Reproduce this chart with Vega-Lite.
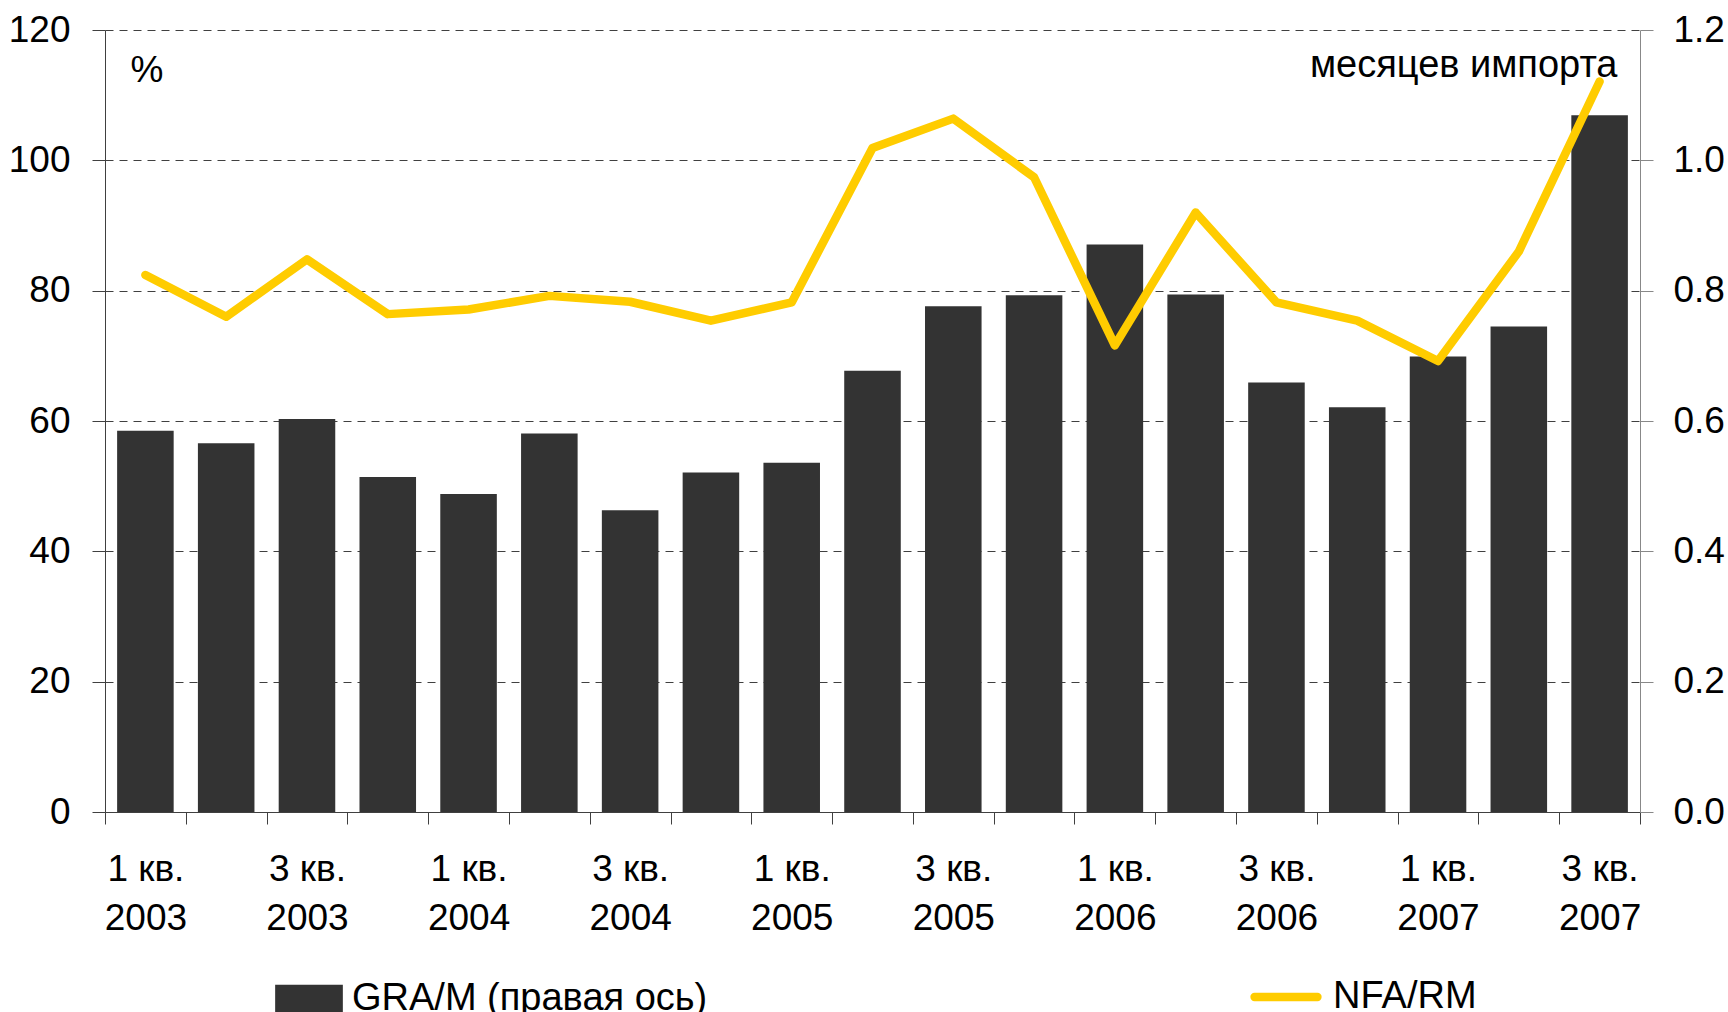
{
  "$schema": "https://vega.github.io/schema/vega-lite/v6.json",
  "width": 1535,
  "height": 782,
  "autosize": {"type": "none"},
  "padding": {"left": 105, "top": 30, "right": 88, "bottom": 200},
  "background": "white",
  "config": {
    "font": "Liberation Sans",
    "view": {"stroke": null}
  },
  "data": {
    "values": [
      {"q": "1 кв. 2003", "gra": 0.585, "nfa": 82.4},
      {"q": "2 кв. 2003", "gra": 0.566, "nfa": 76.0},
      {"q": "3 кв. 2003", "gra": 0.603, "nfa": 84.8},
      {"q": "4 кв. 2003", "gra": 0.514, "nfa": 76.4},
      {"q": "1 кв. 2004", "gra": 0.488, "nfa": 77.1},
      {"q": "2 кв. 2004", "gra": 0.581, "nfa": 79.2},
      {"q": "3 кв. 2004", "gra": 0.463, "nfa": 78.3},
      {"q": "4 кв. 2004", "gra": 0.521, "nfa": 75.4},
      {"q": "1 кв. 2005", "gra": 0.536, "nfa": 78.2},
      {"q": "2 кв. 2005", "gra": 0.677, "nfa": 101.9},
      {"q": "3 кв. 2005", "gra": 0.776, "nfa": 106.4},
      {"q": "4 кв. 2005", "gra": 0.793, "nfa": 97.4},
      {"q": "1 кв. 2006", "gra": 0.871, "nfa": 71.6},
      {"q": "2 кв. 2006", "gra": 0.794, "nfa": 92.0},
      {"q": "3 кв. 2006", "gra": 0.659, "nfa": 78.2},
      {"q": "4 кв. 2006", "gra": 0.621, "nfa": 75.4},
      {"q": "1 кв. 2007", "gra": 0.699, "nfa": 69.2},
      {"q": "2 кв. 2007", "gra": 0.745, "nfa": 86.0},
      {"q": "3 кв. 2007", "gra": 1.069, "nfa": 112.1}
    ]
  },
  "encoding": {
    "x": {
      "field": "q",
      "type": "nominal",
      "sort": null,
      "scale": {"paddingInner": 0, "paddingOuter": 0},
      "axis": {
        "title": null,
        "tickBand": "extent",
        "tickSize": 12,
        "tickColor": "#404040",
        "domainColor": "#404040",
        "labelAngle": 0,
        "labelFontSize": 37,
        "labelLineHeight": 49,
        "labelPadding": 27,
        "labelColor": "black",
        "labelBaseline": "top",
        "labelOverlap": false,
        "labelFlush": false,
        "labelLimit": 0,
        "labelExpr": "(substring(datum.value,0,1) === '1' || substring(datum.value,0,1) === '3') ? [substring(datum.value, 0, 5), substring(datum.value, 6)] : ''"
      }
    }
  },
  "layer": [
    {
      "mark": {"type": "bar", "color": "#333333", "width": {"band": 0.7}},
      "encoding": {
        "y": {
          "field": "gra",
          "type": "quantitative",
          "scale": {"domain": [0, 1.2], "nice": false},
          "axis": {
            "orient": "right",
            "values": [0, 0.2, 0.4, 0.6, 0.8, 1.0, 1.2],
            "format": ".1f",
            "grid": false,
            "tickSize": 13,
            "tickColor": "#888888",
            "domainColor": "#888888",
            "labelPadding": 20,
            "labelFontSize": 37,
            "labelColor": "black",
            "title": "месяцев импорта",
            "titleAngle": 0,
            "titleAlign": "right",
            "titleBaseline": "alphabetic",
            "titleX": -23,
            "titleY": 46,
            "titleFontSize": 38,
            "titleFontWeight": "normal",
            "titleColor": "black"
          }
        },
        "fill": {
          "datum": "GRA/M (правая ось)",
          "type": "nominal",
          "scale": {"range": ["#333333"]},
          "legend": {
            "orient": "none",
            "legendX": 170,
            "legendY": 935,
            "title": null,
            "padding": 0,
            "symbolType": "M-1,-0.42H1V0.42H-1Z",
            "symbolSize": 4583,
            "symbolStrokeWidth": 0,
            "labelFontSize": 38,
            "labelOffset": 9,
            "labelColor": "black",
            "labelLimit": 0
          }
        }
      }
    },
    {
      "mark": {"type": "line", "color": "#FFCC00", "strokeWidth": 8.5, "strokeCap": "round", "strokeJoin": "round"},
      "encoding": {
        "y": {
          "field": "nfa",
          "type": "quantitative",
          "scale": {"domain": [0, 120], "nice": false},
          "axis": {
            "orient": "left",
            "values": [0, 20, 40, 60, 80, 100, 120],
            "grid": true,
            "gridDash": [8, 6],
            "gridColor": "#404040",
            "gridWidth": 1,
            "tickSize": 13,
            "tickColor": "#404040",
            "domainColor": "#404040",
            "labelPadding": 22,
            "labelFontSize": 37,
            "labelColor": "black",
            "title": "%",
            "titleAngle": 0,
            "titleAlign": "left",
            "titleBaseline": "alphabetic",
            "titleX": 25,
            "titleY": 51,
            "titleFontSize": 37,
            "titleFontWeight": "normal",
            "titleColor": "black"
          }
        },
        "stroke": {
          "datum": "NFA/RM",
          "type": "nominal",
          "scale": {"range": ["#FFCC00"]},
          "legend": {
            "orient": "none",
            "legendX": 1145,
            "legendY": 931,
            "title": null,
            "padding": 0,
            "symbolType": "stroke",
            "symbolSize": 3969,
            "symbolStrokeWidth": 8.3,
            "labelFontSize": 38,
            "labelOffset": 11,
            "labelColor": "black",
            "labelLimit": 0,
            "encode": {"symbols": {"update": {"strokeCap": {"value": "round"}}}}
          }
        }
      }
    }
  ],
  "resolve": {"scale": {"y": "independent"}}
}
